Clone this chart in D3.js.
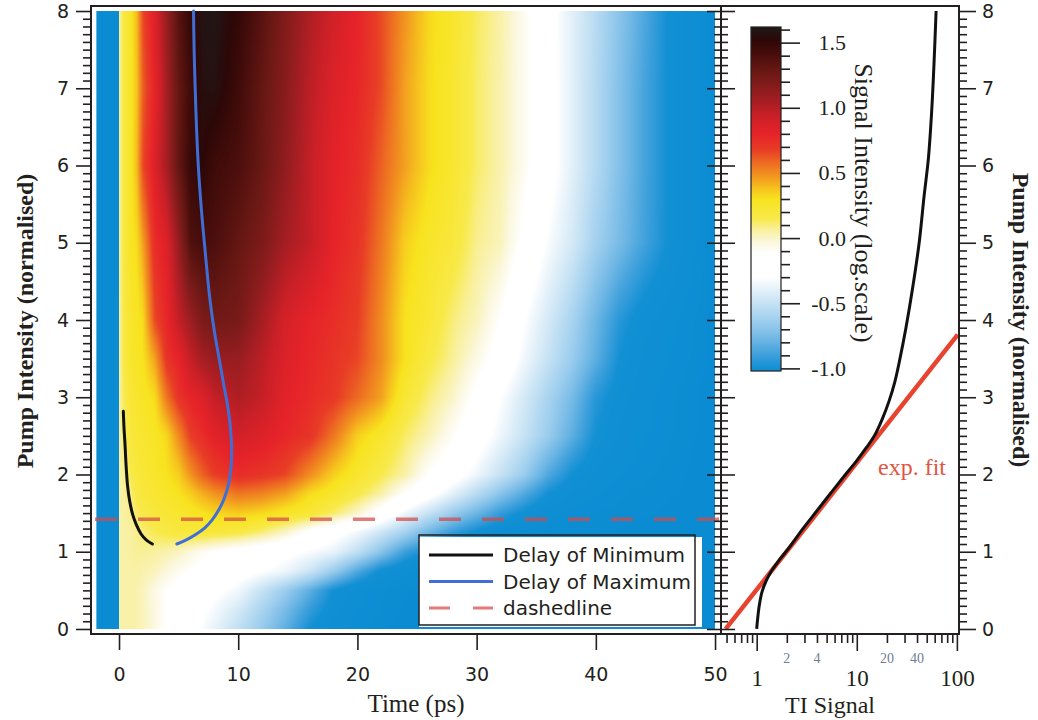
<!DOCTYPE html>
<html>
<head>
<meta charset="utf-8">
<script src="https://cdn.jsdelivr.net/npm/d3@7"></script>
<style>
  body { margin: 0; background: #fff; }
  svg { display: block; }
</style>
</head>
<body>
<svg id="chart" width="1038" height="720"></svg>
<script>
// ---------- data ----------
// Delay axis of the map (ps) and pump intensity rows (normalised)
const timeGrid = [0, 0.5, 1, 1.5, 2, 3, 4, 5, 6, 7, 8, 10, 12, 14, 16, 18, 20, 22, 24, 26, 28, 30, 32, 34, 36, 38, 40, 42, 44, 46, 48, 50];
const pumpGrid = [0, 0.25, 0.5, 0.75, 1, 1.25, 1.5, 1.75, 2, 2.5, 3, 3.5, 4, 5, 6, 7, 8];
// log10 signal intensity, one row per pump value (same order as pumpGrid)
const signalP0    = [0.05,0.05,0.05,0.04,0.02,-0.04,-0.13,-0.2,-0.26,-0.32,-0.38,-0.52,-0.66,-0.82,-1.0,-1.1,-1.15,-1.18,-1.2,-1.2,-1.2,-1.2,-1.2,-1.2,-1.2,-1.2,-1.2,-1.2,-1.2,-1.2,-1.2,-1.2];
const signalP025  = [0.05,0.05,0.05,0.04,0.02,-0.04,-0.12,-0.18,-0.23,-0.28,-0.34,-0.45,-0.6,-0.75,-0.92,-1.05,-1.12,-1.16,-1.19,-1.2,-1.2,-1.2,-1.2,-1.2,-1.2,-1.2,-1.2,-1.2,-1.2,-1.2,-1.2,-1.2];
const signalP05   = [0.05,0.05,0.05,0.04,0.02,-0.05,-0.12,-0.16,-0.2,-0.23,-0.27,-0.35,-0.5,-0.65,-0.82,-1.0,-1.1,-1.15,-1.18,-1.2,-1.2,-1.2,-1.2,-1.2,-1.2,-1.2,-1.2,-1.2,-1.2,-1.2,-1.2,-1.2];
const signalP075  = [0.05,0.05,0.05,0.05,0.04,0.02,-0.03,-0.08,-0.12,-0.15,-0.18,-0.24,-0.3,-0.36,-0.48,-0.65,-0.85,-1.02,-1.1,-1.15,-1.18,-1.2,-1.2,-1.2,-1.2,-1.2,-1.2,-1.2,-1.2,-1.2,-1.2,-1.2];
const signalP1    = [0.05,0.05,0.06,0.07,0.07,0.06,0.04,0.01,-0.03,-0.08,-0.12,-0.17,-0.22,-0.27,-0.32,-0.38,-0.52,-0.7,-0.9,-1.02,-1.1,-1.14,-1.16,-1.18,-1.2,-1.2,-1.2,-1.2,-1.2,-1.2,-1.2,-1.2];
const signalP125  = [0.05,0.05,0.06,0.08,0.1,0.14,0.17,0.19,0.2,0.21,0.2,0.17,0.1,0.0,-0.15,-0.25,-0.35,-0.48,-0.62,-0.78,-0.92,-1.02,-1.1,-1.14,-1.16,-1.17,-1.18,-1.19,-1.2,-1.2,-1.2,-1.2];
const signalP15   = [0.05,0.06,0.08,0.12,0.16,0.2,0.22,0.24,0.27,0.3,0.33,0.36,0.33,0.27,0.22,0.12,0.0,-0.18,-0.35,-0.5,-0.65,-0.78,-0.92,-1.02,-1.1,-1.14,-1.16,-1.17,-1.18,-1.19,-1.2,-1.2];
const signalP175  = [0.05,0.07,0.1,0.17,0.2,0.23,0.26,0.3,0.35,0.42,0.48,0.55,0.52,0.45,0.32,0.25,0.16,0.05,-0.12,-0.25,-0.4,-0.55,-0.7,-0.85,-1.0,-1.08,-1.12,-1.15,-1.17,-1.18,-1.19,-1.2];
const signalP2    = [0.05,0.08,0.15,0.2,0.22,0.25,0.3,0.35,0.48,0.6,0.68,0.75,0.72,0.66,0.5,0.35,0.25,0.15,0.05,-0.12,-0.22,-0.36,-0.5,-0.65,-0.85,-1.0,-1.08,-1.12,-1.15,-1.17,-1.19,-1.2];
const signalP25   = [0.05,0.12,0.2,0.22,0.24,0.27,0.33,0.5,0.68,0.75,0.82,0.9,0.85,0.78,0.72,0.55,0.35,0.25,0.12,0.03,-0.1,-0.22,-0.36,-0.5,-0.65,-0.82,-1.0,-1.08,-1.12,-1.15,-1.18,-1.2];
const signalP3    = [0.05,0.15,0.22,0.25,0.27,0.32,0.55,0.72,0.8,0.85,0.95,1.02,0.95,0.82,0.76,0.7,0.58,0.45,0.22,0.1,0.0,-0.15,-0.3,-0.45,-0.6,-0.75,-0.95,-1.05,-1.1,-1.15,-1.18,-1.2];
const signalP35   = [0.05,0.18,0.25,0.27,0.3,0.45,0.72,0.8,0.95,1.05,1.1,1.1,0.98,0.85,0.78,0.72,0.66,0.5,0.3,0.17,0.07,-0.05,-0.18,-0.35,-0.5,-0.65,-0.82,-1.0,-1.08,-1.12,-1.16,-1.2];
const signalP4    = [0.05,0.18,0.25,0.28,0.32,0.65,0.78,0.95,1.08,1.2,1.25,1.22,1.05,0.88,0.8,0.75,0.68,0.5,0.3,0.22,0.1,0.02,-0.12,-0.3,-0.45,-0.6,-0.78,-0.95,-1.05,-1.1,-1.15,-1.2];
const signalP5    = [0.05,0.2,0.28,0.32,0.45,0.75,0.85,1.1,1.38,1.42,1.4,1.3,1.2,1.05,0.95,0.8,0.72,0.55,0.35,0.26,0.2,0.08,0.02,-0.15,-0.32,-0.45,-0.62,-0.75,-0.88,-1.0,-1.1,-1.2];
const signalP6    = [0.05,0.2,0.28,0.4,0.65,0.85,1.05,1.3,1.48,1.52,1.45,1.4,1.28,1.12,0.95,0.82,0.75,0.6,0.45,0.32,0.24,0.12,0.04,-0.08,-0.24,-0.4,-0.56,-0.72,-0.87,-1.0,-1.1,-1.2];
const signalP7    = [0.05,0.2,0.28,0.38,0.6,0.8,1.05,1.3,1.45,1.56,1.57,1.45,1.3,1.15,0.98,0.85,0.78,0.65,0.45,0.32,0.24,0.12,0.04,-0.08,-0.24,-0.4,-0.56,-0.72,-0.87,-1.0,-1.1,-1.2];
const signalP8    = [0.05,0.2,0.28,0.4,0.65,0.85,1.1,1.35,1.5,1.58,1.6,1.5,1.35,1.18,1.02,0.9,0.8,0.65,0.48,0.33,0.25,0.13,0.05,-0.08,-0.25,-0.4,-0.55,-0.7,-0.85,-1.0,-1.1,-1.2];
const signalGrid = [signalP0, signalP025, signalP05, signalP075, signalP1, signalP125, signalP15, signalP175,
                    signalP2, signalP25, signalP3, signalP35, signalP4, signalP5, signalP6, signalP7, signalP8];
// signal level before time zero
const preZeroStart = -1.9;
const preZeroLevel = -1.2;

// delay of the minimum / maximum: [time (ps), pump]
const delayOfMinimum = [[0.36,2.82],[0.42,2.6],[0.5,2.4],[0.6,2.1],[0.72,1.85],[0.9,1.65],[1.15,1.48],[1.45,1.35],[1.85,1.23],[2.3,1.15],[2.8,1.1]];
const delayOfMaximum = [[4.85,1.1],[5.6,1.15],[6.4,1.22],[7.2,1.31],[7.8,1.41],[8.4,1.55],[8.8,1.68],[9.15,1.85],[9.35,2.02],[9.45,2.3],[9.35,2.6],[9.1,2.9],[8.8,3.15],[8.4,3.5],[8.0,3.85],[7.6,4.3],[7.25,4.85],[6.9,5.45],[6.65,6.0],[6.5,6.5],[6.38,7.05],[6.3,7.5],[6.25,8.0]];
const dashedPump = 1.42;

// TI signal vs pump: [TI signal, pump]
const tiSignal = [[1.0,0],[1.02,0.12],[1.06,0.3],[1.13,0.48],[1.25,0.63],[1.42,0.76],[1.7,0.9],[2.1,1.05],[2.9,1.3],[4.0,1.53],[5.5,1.76],[7.5,1.98],[10,2.18],[12.5,2.35],[15,2.5],[18,2.72],[21,2.95],[24,3.2],[27,3.5],[31,3.9],[36,4.4],[42,5.0],[47,5.6],[52,6.1],[56,6.7],[59,7.3],[62,8.0]];
const expFit = [[0.49,0],[102,3.81]];

// ticks and labels
const timeTicks = [0, 10, 20, 30, 40, 50];
const pumpTicks = [0, 1, 2, 3, 4, 5, 6, 7, 8];
const tiMajorTicks = [1, 10, 100];
const tiMinorTicks = [0.5, 0.6, 0.7, 0.8, 0.9, 2, 3, 4, 5, 6, 7, 8, 9, 20, 30, 40, 50, 60, 70, 80, 90];
const tiMinorLabels = [2, 4, 20, 40];
const colorTicks = [-1.0, -0.5, 0.0, 0.5, 1.0, 1.5];
const legendLabels = ["Delay of Minimum", "Delay of Maximum", "dashedline"];

// colour map: [log signal, colour]
const colorStops = [
  [-1.2, "#0b8cd2"], [-1.0, "#1290d4"], [-0.9, "#3c9fdb"], [-0.78, "#6db6e4"], [-0.65, "#9acced"],
  [-0.5, "#c6e2f4"], [-0.38, "#e8f3fa"], [-0.3, "#ffffff"], [-0.12, "#ffffff"], [-0.03, "#fbf7dc"],
  [0.06, "#f9f0a0"], [0.15, "#f8e94a"], [0.3, "#f8e31e"], [0.38, "#f6c21e"], [0.47, "#f2981f"],
  [0.58, "#ed6a22"], [0.68, "#e83c26"], [0.8, "#e62329"], [0.92, "#cd2027"], [1.04, "#a81e23"],
  [1.16, "#861c1c"], [1.28, "#691814"], [1.42, "#460d0b"], [1.52, "#2c0707"], [1.62, "#1f1a1a"]
];

// ---------- setup ----------
const svg = d3.select("#chart");
const ink = "#231f20";
const SERIF = "'Liberation Serif', 'Times New Roman', serif";
const SANS = "'DejaVu Sans', Verdana, sans-serif";

const x = d3.scaleLinear().domain([-2.35, 50.5]).range([91, 721]);
const y = d3.scaleLinear().domain([-0.065, 8.065]).range([634, 6]);
const xr = d3.scaleLog().domain([0.44, 105]).range([721, 959]);
const color = d3.scaleLinear()
  .domain(colorStops.map(d => d[0]))
  .range(colorStops.map(d => d[1]))
  .interpolate(d3.interpolateRgb)
  .clamp(true);

// ---------- signal map ----------
svg.append("rect")
  .attr("x", x(preZeroStart)).attr("y", y(8))
  .attr("width", x(0) - x(preZeroStart)).attr("height", y(0) - y(8))
  .attr("fill", color(preZeroLevel));

(function drawMap() {
  const px0 = Math.round(x(0)), px1 = Math.round(x(50));
  const py0 = Math.round(y(8)), py1 = Math.round(y(0));
  const W = px1 - px0, H = py1 - py0;
  const canvas = document.createElement("canvas");
  canvas.width = W; canvas.height = H;
  const ctx = canvas.getContext("2d");
  const img = ctx.createImageData(W, H);

  // colour lookup
  const N = 1024, vMin = -1.2, vMax = 1.62;
  const lut = d3.range(N).map(k => d3.rgb(color(vMin + (vMax - vMin) * k / (N - 1))));

  function locate(grid, v) {
    let i = d3.bisectRight(grid, v) - 1;
    i = Math.max(0, Math.min(grid.length - 2, i));
    let f = (v - grid[i]) / (grid[i + 1] - grid[i]);
    return [i, Math.max(0, Math.min(1, f))];
  }
  const cols = d3.range(W).map(c => locate(timeGrid, x.invert(px0 + c + 0.5)));
  for (let r = 0; r < H; r++) {
    const [j, fp] = locate(pumpGrid, y.invert(py0 + r + 0.5));
    const rowA = signalGrid[j], rowB = signalGrid[j + 1];
    for (let c = 0; c < W; c++) {
      const [i, ft] = cols[c];
      const a = rowA[i] * (1 - ft) + rowA[i + 1] * ft;
      const b = rowB[i] * (1 - ft) + rowB[i + 1] * ft;
      const v = a * (1 - fp) + b * fp;
      let k = Math.round((v - vMin) / (vMax - vMin) * (N - 1));
      k = Math.max(0, Math.min(N - 1, k));
      const col = lut[k], o = (r * W + c) * 4;
      img.data[o] = col.r; img.data[o + 1] = col.g; img.data[o + 2] = col.b; img.data[o + 3] = 255;
    }
  }
  ctx.putImageData(img, 0, 0);
  svg.append("image")
    .attr("x", px0).attr("y", py0).attr("width", W).attr("height", H)
    .attr("preserveAspectRatio", "none")
    .attr("href", canvas.toDataURL());
})();

// ---------- curves on the map ----------
const mapLine = d3.line().x(d => x(d[0])).y(d => y(d[1])).curve(d3.curveCatmullRom.alpha(0.5));
svg.append("path").attr("d", mapLine(delayOfMinimum))
  .attr("fill", "none").attr("stroke", "#111").attr("stroke-width", 3).attr("stroke-linecap", "round");
svg.append("path").attr("d", mapLine(delayOfMaximum))
  .attr("fill", "none").attr("stroke", "#3f6fd6").attr("stroke-width", 3).attr("stroke-linecap", "round");

svg.append("line")
  .attr("x1", x.range()[0]).attr("x2", x.range()[1])
  .attr("y1", y(dashedPump)).attr("y2", y(dashedPump))
  .attr("stroke", "#d44a46").attr("stroke-opacity", 0.72).attr("stroke-width", 3.5)
  .attr("stroke-dasharray", "22 21").attr("stroke-dashoffset", 39);

// ---------- legend ----------
const lg = svg.append("g");
lg.append("rect").attr("x", 419).attr("y", 537).attr("width", 283).attr("height", 90).attr("fill", "#fff");
lg.append("rect").attr("x", 419).attr("y", 535).attr("width", 276).attr("height", 90)
  .attr("fill", "none").attr("stroke", ink).attr("stroke-width", 1.5);
const legendStyles = [
  { stroke: "#111", dash: null, opacity: 1 },
  { stroke: "#3f6fd6", dash: null, opacity: 1 },
  { stroke: "#d44a46", dash: "21 23", opacity: 0.72 }
];
legendLabels.forEach((label, k) => {
  const cy = 555 + k * 26.5;
  lg.append("line").attr("x1", 429).attr("x2", 493).attr("y1", cy).attr("y2", cy)
    .attr("stroke", legendStyles[k].stroke).attr("stroke-width", 3)
    .attr("stroke-opacity", legendStyles[k].opacity)
    .attr("stroke-dasharray", legendStyles[k].dash);
  lg.append("text").attr("x", 503).attr("y", cy + 7)
    .attr("font-family", SANS).attr("font-size", 20).attr("fill", ink).text(label);
});

// ---------- right panel: TI signal ----------
const tiLine = d3.line().x(d => xr(d[0])).y(d => y(d[1]));
svg.append("path").attr("d", tiLine(expFit))
  .attr("fill", "none").attr("stroke", "#e8432e").attr("stroke-width", 4.5);
svg.append("path").attr("d", tiLine.curve(d3.curveCatmullRom.alpha(0.5))(tiSignal))
  .attr("fill", "none").attr("stroke", "#111").attr("stroke-width", 3);
svg.append("text").attr("x", 912).attr("y", 475).attr("text-anchor", "middle")
  .attr("font-family", SERIF).attr("font-size", 24).attr("fill", "#e2553f").text("exp. fit");

// ---------- frames and axes ----------
const frame = svg.append("g").attr("fill", "none").attr("stroke", ink).attr("stroke-width", 2);
frame.append("path").attr("d", `M91,6H959V634H91Z`);
frame.append("line").attr("x1", 721).attr("x2", 721).attr("y1", 6).attr("y2", 634);

const minorPump = d3.range(0, 81).map(k => k / 10).filter(v => Math.abs(v - Math.round(v)) > 1e-6);

function styleAxis(g) {
  g.select(".domain").remove();
  g.selectAll(".tick line").attr("stroke", ink).attr("stroke-width", 1.6);
  g.selectAll("text").attr("fill", ink);
}

// left pump axis
svg.append("g").attr("transform", "translate(91,0)")
  .call(d3.axisLeft(y).tickValues(pumpTicks).tickSize(15).tickPadding(7).tickFormat(d3.format("d")))
  .call(styleAxis)
  .selectAll("text").attr("font-family", SANS).attr("font-size", 19);
svg.append("g").attr("transform", "translate(91,0)")
  .call(d3.axisLeft(y).tickValues(minorPump).tickSize(8).tickFormat(""))
  .call(styleAxis);

// shared middle axis: ticks on both sides
[d3.axisLeft, d3.axisRight].forEach(ax => {
  svg.append("g").attr("transform", "translate(721,0)")
    .call(ax(y).tickValues(pumpTicks).tickSize(14).tickFormat(""))
    .call(styleAxis);
  svg.append("g").attr("transform", "translate(721,0)")
    .call(ax(y).tickValues(minorPump).tickSize(7).tickFormat(""))
    .call(styleAxis);
});

// right pump axis
svg.append("g").attr("transform", "translate(959,0)")
  .call(d3.axisRight(y).tickValues(pumpTicks).tickSize(17).tickPadding(6).tickFormat(d3.format("d")))
  .call(styleAxis)
  .selectAll("text").attr("font-family", SANS).attr("font-size", 19);
svg.append("g").attr("transform", "translate(959,0)")
  .call(d3.axisRight(y).tickValues(minorPump).tickSize(8).tickFormat(""))
  .call(styleAxis);

// time axis
svg.append("g").attr("transform", "translate(0,634)")
  .call(d3.axisBottom(x).tickValues(timeTicks).tickSize(16).tickPadding(18).tickFormat(d3.format("d")))
  .call(styleAxis)
  .selectAll("text").attr("font-family", SANS).attr("font-size", 19);

// TI signal log axis
const tiAxis = svg.append("g").attr("transform", "translate(0,634)")
  .call(d3.axisBottom(xr).tickValues(tiMajorTicks).tickSize(17).tickFormat(d3.format("d")))
  .call(styleAxis);
tiAxis.selectAll("text").attr("font-family", SERIF).attr("font-size", 23)
  .attr("y", 52).attr("dy", null);
svg.append("g").attr("transform", "translate(0,634)")
  .call(d3.axisBottom(xr).tickValues(tiMinorTicks).tickSize(9).tickFormat(""))
  .call(styleAxis);
svg.append("g").selectAll("text").data(tiMinorLabels).join("text")
  .attr("x", d => xr(d)).attr("y", 663).attr("text-anchor", "middle")
  .attr("font-family", SERIF).attr("font-size", 14).attr("fill", "#6f7c94")
  .text(d => d);

// axis titles
svg.append("text").attr("x", 416).attr("y", 712).attr("text-anchor", "middle")
  .attr("font-family", SERIF).attr("font-size", 25).attr("fill", ink).text("Time (ps)");
svg.append("text").attr("x", 830).attr("y", 713).attr("text-anchor", "middle")
  .attr("font-family", SERIF).attr("font-size", 24).attr("fill", ink).text("TI Signal");
svg.append("text").attr("transform", "translate(25,321) rotate(-90)")
  .attr("text-anchor", "middle").attr("dominant-baseline", "central")
  .attr("font-family", SERIF).attr("font-weight", "bold").attr("font-size", 24).attr("fill", ink)
  .text("Pump Intensity (normalised)");
svg.append("text").attr("transform", "translate(1021,320) rotate(90)")
  .attr("text-anchor", "middle").attr("dominant-baseline", "central")
  .attr("font-family", SERIF).attr("font-weight", "bold").attr("font-size", 24).attr("fill", ink)
  .text("Pump Intensity (normalised)");

// ---------- colour bar ----------
const cb = d3.scaleLinear().domain([-1.02, 1.62]).range([371, 27]);
const grad = svg.append("defs").append("linearGradient").attr("id", "cbGrad")
  .attr("x1", 0).attr("x2", 0).attr("y1", 1).attr("y2", 0);
const cbStops = colorStops.filter(d => d[0] >= -1.02);
grad.selectAll("stop").data([[-1.02, color(-1.02)], ...cbStops]).join("stop")
  .attr("offset", d => (d[0] - (-1.02)) / (1.62 - (-1.02)))
  .attr("stop-color", d => d[1]);
svg.append("rect").attr("x", 751).attr("y", cb(1.62)).attr("width", 30).attr("height", cb(-1.02) - cb(1.62))
  .attr("fill", "url(#cbGrad)").attr("stroke", ink).attr("stroke-width", 1.2);
const cbMinor = d3.range(-10, 17).map(k => k / 10).filter(v => Math.abs(v * 2 - Math.round(v * 2)) > 1e-6);
svg.append("g").attr("transform", "translate(781,0)")
  .call(d3.axisRight(cb).tickValues(cbMinor).tickSize(9).tickFormat(""))
  .call(styleAxis);
const cbAxis = svg.append("g").attr("transform", "translate(781,0)")
  .call(d3.axisRight(cb).tickValues(colorTicks).tickSize(19).tickPadding(6).tickFormat(d3.format(".1f")))
  .call(styleAxis);
cbAxis.selectAll("text").attr("font-family", SERIF).attr("font-size", 22)
  .attr("text-anchor", "end").attr("x", 65).text(d => d3.format(".1f")(d).replace("−", "-"));
svg.append("text").attr("transform", "translate(863,203) rotate(90)")
  .attr("text-anchor", "middle").attr("dominant-baseline", "central")
  .attr("font-family", SERIF).attr("font-size", 26).attr("fill", ink)
  .text("Signal Intensity (log.scale)");
</script>
</body>
</html>
